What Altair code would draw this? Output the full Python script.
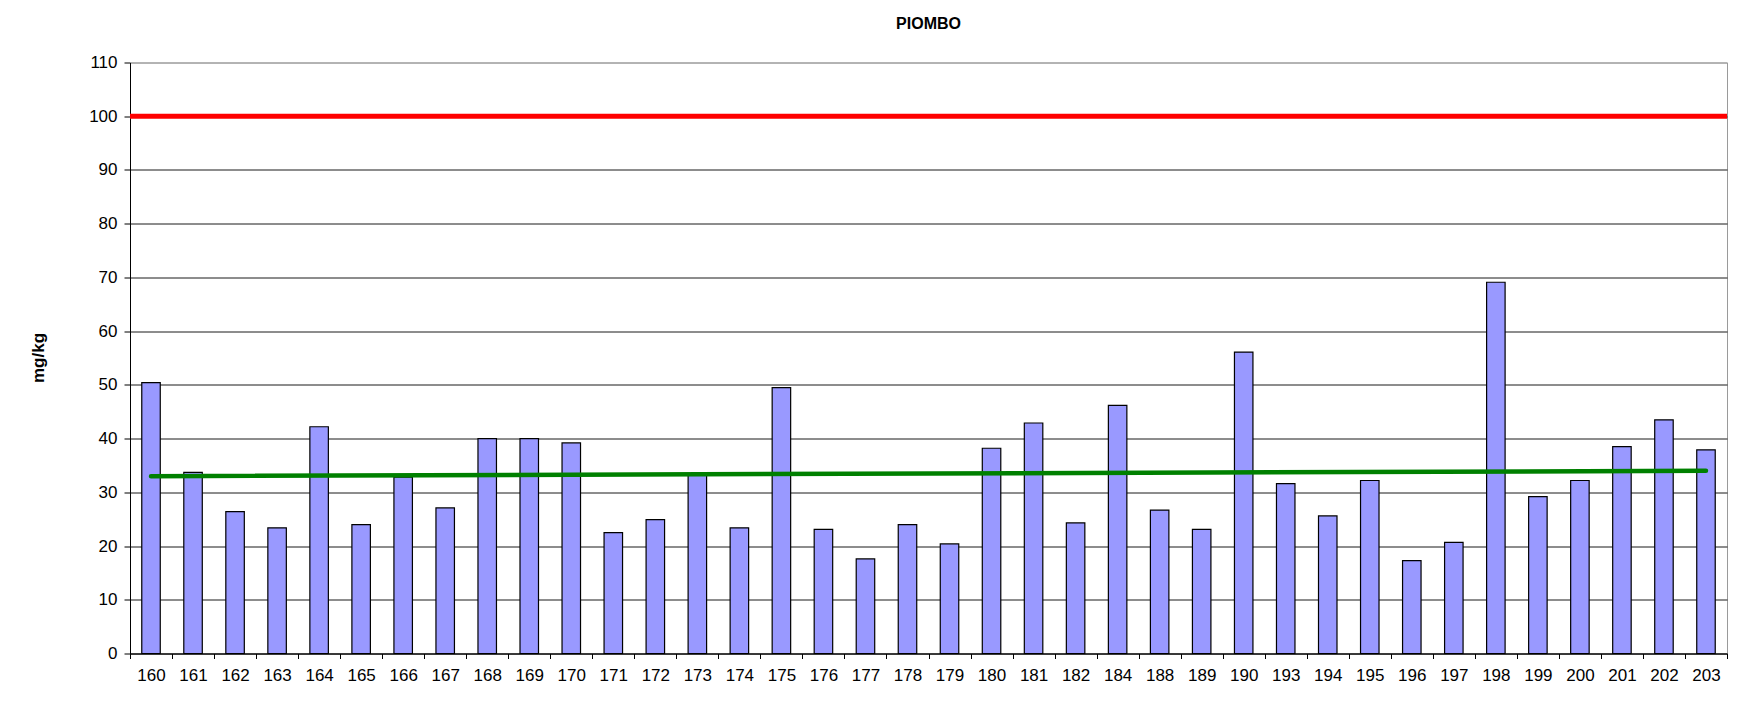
import altair as alt
import pandas as pd

# ---- data ----
categories = ["160", "161", "162", "163", "164", "165", "166", "167", "168", "169",
              "170", "171", "172", "173", "174", "175", "176", "177", "178", "179",
              "180", "181", "182", "184", "188", "189", "190", "193", "194", "195",
              "196", "197", "198", "199", "200", "201", "202", "203"]
values = [50.4, 33.7, 26.4, 23.4, 42.2, 24.0, 32.8, 27.1, 40.0, 40.0,
          39.2, 22.5, 24.9, 33.3, 23.4, 49.5, 23.1, 17.6, 24.0, 20.4,
          38.2, 42.9, 24.3, 46.2, 26.7, 23.1, 56.1, 31.6, 25.6, 32.2,
          17.3, 20.7, 69.1, 29.2, 32.2, 38.5, 43.5, 37.9]
trend_x = ["160", "203"]
trend_y = [33.0, 34.0]
limit_value = [100]
y_ticks = [0, 10, 20, 30, 40, 50, 60, 70, 80, 90, 100, 110]

bars_df = pd.DataFrame({"campione": categories, "valore": values})
trend_df = pd.DataFrame({"campione": trend_x, "valore": trend_y})
limit_df = pd.DataFrame({"limite": limit_value})

FONT = "Liberation Sans"

x_enc = alt.X(
    "campione:N",
    sort=categories,
    scale=alt.Scale(domain=categories, paddingInner=0, paddingOuter=0),
    axis=alt.Axis(
        title=None,
        labelAngle=0,
        labelFont=FONT,
        labelFontSize=17,
        labelColor="#000000",
        labelPadding=9,
        tickBand="extent",
        tickSize=5,
        tickColor="#000000",
        domainColor="#000000",
        domainWidth=1,
        grid=False,
    ),
)

y_scale = alt.Scale(domain=[0, 110], nice=False, zero=True)
y_axis = alt.Axis(
    title="mg/kg",
    titleFont=FONT,
    titleFontSize=17,
    titleFontWeight="bold",
    titleColor="#000000",
    titleX=-92,
    titleY=295,
    titleAngle=270,
    titleAlign="center",
    titleBaseline="middle",
    values=y_ticks,
    labelFont=FONT,
    labelFontSize=17,
    labelColor="#000000",
    labelPadding=7,
    tickSize=6,
    tickColor="#000000",
    domainColor="#000000",
    grid=True,
    gridColor=alt.condition(alt.datum.value == 110, alt.value("#9a9a9a"), alt.value("#1a1a1a")),
    gridWidth=1,
)

bars = alt.Chart(bars_df).mark_bar(
    width=alt.RelativeBandSize(0.44),
    color="#9999FF",
    stroke="#000000",
    strokeWidth=1.2,
).encode(
    x=x_enc,
    y=alt.Y("valore:Q", scale=y_scale, axis=y_axis),
)

trend = alt.Chart(trend_df).mark_line(
    color="#008000", strokeWidth=4.5, strokeCap="round"
).encode(
    x=alt.X("campione:N", sort=categories),
    y=alt.Y("valore:Q", scale=y_scale),
)

limit = alt.Chart(limit_df).mark_rule(
    color="#FF0000", strokeWidth=5
).encode(
    y=alt.Y("limite:Q", scale=y_scale),
)

chart = alt.layer(bars, limit, trend).properties(
    width=1597,
    height=591,
    autosize=alt.AutoSizeParams(type="none"),
    padding={"left": 122, "top": 54.5, "right": 17, "bottom": 50},
    background="#FFFFFF",
    title=alt.TitleParams(
        "PIOMBO",
        font=FONT,
        fontSize=16,
        fontWeight="bold",
        color="#000000",
        anchor="middle",
        frame="group",
        offset=22,
    ),
).configure_view(
    stroke="#9a9a9a", strokeWidth=1
)

chart.save("out.html", embed_options={"renderer": "svg", "actions": False})
